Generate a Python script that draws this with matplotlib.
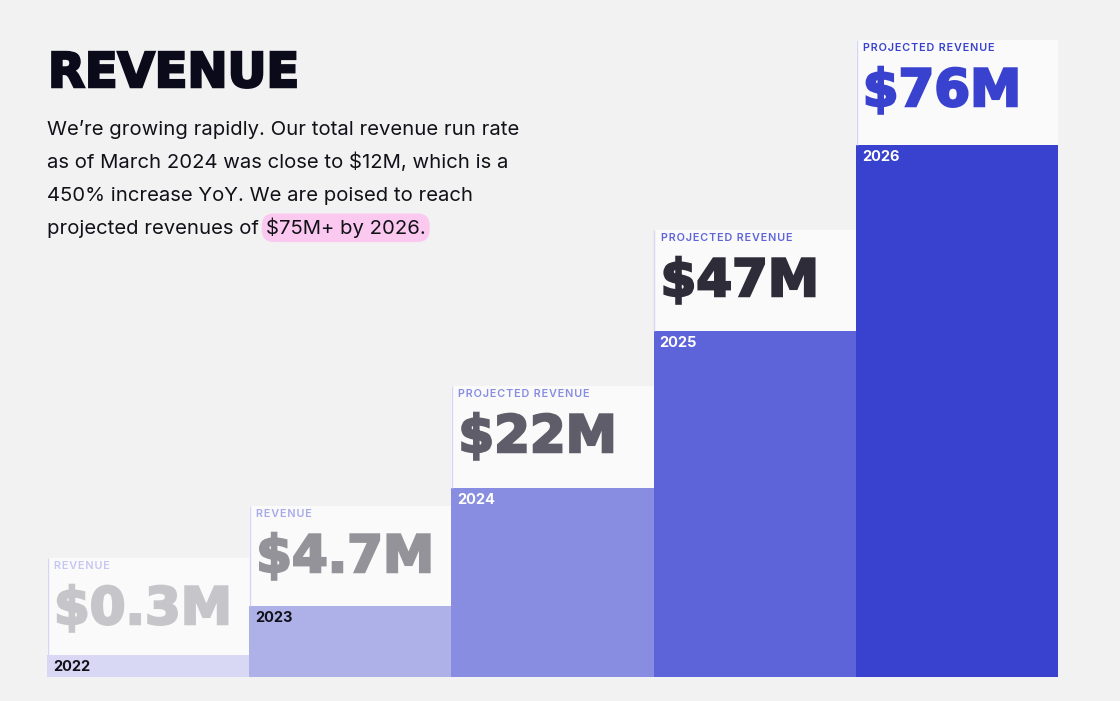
import matplotlib.pyplot as plt
import matplotlib.patheffects as pe
import numpy as np

# chart data
years = ['2022', '2023', '2024', '2025', '2026']
kinds = ['REVENUE', 'REVENUE', 'PROJECTED REVENUE', 'PROJECTED REVENUE', 'PROJECTED REVENUE']
value_labels = ['$0.3M', '$4.7M', '$22M', '$47M', '$76M']
# bar heights as drawn (staircase, not to scale)
bar_heights = [22, 71, 189, 346, 532]
panel_heights = [119, 171, 291, 447, 637]

bar_colors = ['#d8d8f4', '#aeb0e8', '#888de1', '#5d63d9', '#3942cf']
value_colors = ['#c6c6ca', '#939399', '#5f5d69', '#2e2c39', '#3942cf']
kind_colors = ['#c4c7f1', '#a7aae9', '#888de1', '#5f65d9', '#3942cf']
year_colors = ['#111118', '#111118', 'white', 'white', 'white']

bg = '#f2f2f2'
W, H = 1120, 701


def heavy(c, w=1.8):
    return [pe.withStroke(linewidth=w, foreground=c, joinstyle='miter')]


fig = plt.figure(figsize=(W / 100, H / 100), dpi=100, facecolor=bg)
ax = fig.add_axes([47 / W, 24 / H, (1058 - 47) / W, 677 / H])
ax.set_facecolor('none')
ax.set_xlim(0, 5)
ax.set_ylim(0, 677)
ax.axis('off')

x = np.arange(len(years))
ax.bar(x, panel_heights, width=1, align='edge', color='#fafafa', zorder=1)
ax.bar(x, bar_heights, width=1, align='edge', color=bar_colors, zorder=2)
ax.vlines(x + 0.004, bar_heights, panel_heights, color='#d4d6f4', lw=1, zorder=3)

px = 1 / 202.2  # one pixel in x data units
for i in range(len(years)):
    top = panel_heights[i]
    ax.text(x[i] + 7 * px, top - 11, '\u200a'.join(kinds[i]), fontsize=7.8,
            fontweight='semibold', family='Inter',
            color=kind_colors[i], va='baseline', ha='left', zorder=4)
    ax.text(x[i] + 7 * px, top - 66, value_labels[i], fontsize=37, fontweight='bold',
            color=value_colors[i], va='baseline', ha='left', zorder=4,
            path_effects=heavy(value_colors[i]))
    ax.text(x[i] + 6 * px, bar_heights[i] - 16, years[i], fontsize=10.5, fontweight='bold',
            family='Inter', color=year_colors[i], va='baseline', ha='left', zorder=4)

# title and intro text
fig.text(48 / W, 1 - 87 / H, 'REVENUE', fontsize=34.5, fontweight='bold',
         color='#0b0a1a', va='baseline', ha='left', path_effects=heavy('#0b0a1a'))

lines = ["We\u2019re growing rapidly. Our total revenue run rate",
         "as of March 2024 was close to $12M, which is a",
         "450% increase YoY. We are poised to reach"]
baselines = [135, 168, 201, 234]
fs = 14.6
for line, b in zip(lines, baselines):
    fig.text(47 / W, 1 - b / H, line, fontsize=fs, family='Inter',
             color='#111118', va='baseline', ha='left')

t = fig.text(47 / W, 1 - baselines[3] / H, 'projected revenues of', fontsize=fs,
             family='Inter', color='#111118', va='baseline', ha='left')
r = fig.canvas.get_renderer()
bb = t.get_window_extent(renderer=r)
fig.text((bb.x1 + 7) / W, 1 - baselines[3] / H, '$75M+ by 2026.', fontsize=fs,
         family='Inter', color='#111118', va='baseline', ha='left',
         bbox=dict(boxstyle='round,pad=0.2,rounding_size=0.6', fc='#fbc9ef', ec='none'))

fig.savefig('out.png', dpi=100, facecolor=bg)
